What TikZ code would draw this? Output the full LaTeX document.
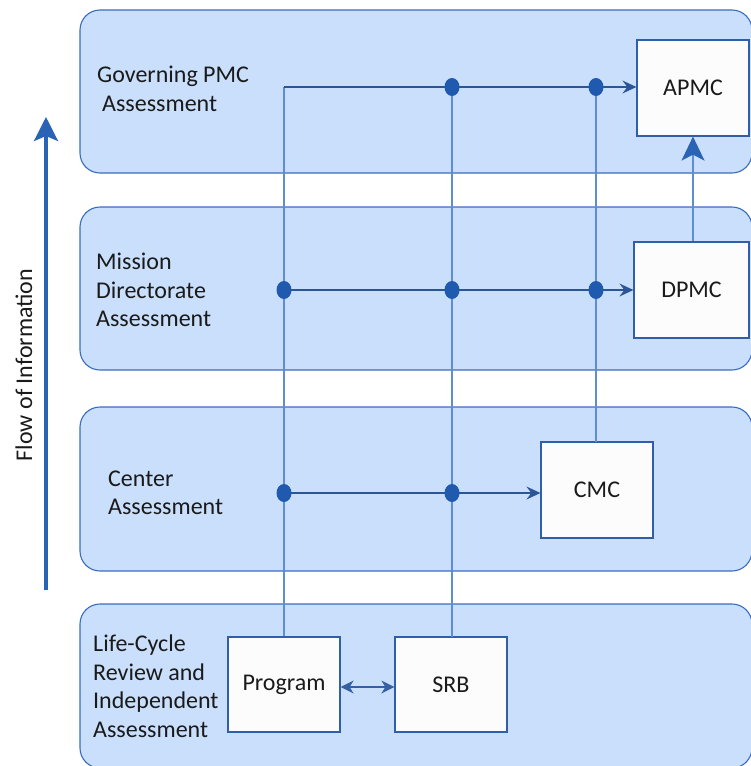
\documentclass[tikz,border=0pt]{standalone}
\usepackage{fontspec}
\setmainfont{Carlito}
\usetikzlibrary{arrows.meta,shapes.geometric}
\definecolor{bandfill}{HTML}{C9DFFC}
\definecolor{bandline}{HTML}{3A6CC0}
\definecolor{boxline}{HTML}{2E5FA8}
\definecolor{hline}{HTML}{2A5597}
\definecolor{vline}{HTML}{5F8DD2}
\definecolor{dotc}{HTML}{1F5AAE}
\definecolor{flowc}{HTML}{2A62B6}
\definecolor{txt}{HTML}{1A1A1A}
\tikzset{
  band/.style={draw=bandline, fill=bandfill, line width=1.1pt, rounded corners=20pt, inner sep=0pt},
  blabel/.style={anchor=west, align=left, inner sep=0pt, text=txt, font=\fontsize{24}{28.5}\selectfont},
  unit/.style={draw=boxline, fill=white!98!gray, line width=1.2pt, minimum width=112pt, minimum height=96pt, inner sep=0pt, text=txt, font=\fontsize{24}{28}\selectfont},
  jdot/.style={ellipse, fill=dotc, minimum width=15pt, minimum height=18pt, inner sep=0pt},
  hl/.style={draw=hline, line width=1.4pt},
  vl/.style={draw=vline, line width=1.4pt},
  harrow/.style={-{Stealth[length=14pt,width=13pt,inset=5pt]}},
}
\begin{document}
\begin{tikzpicture}[x=1pt,y=-1pt]
\useasboundingbox (0,0) rectangle (750,766);
% bands
\node[band, minimum width=672pt, minimum height=163pt] (b1) at (416,91.5) {};
\node[band, minimum width=672pt, minimum height=163pt] (b2) at (416,288.5) {};
\node[band, minimum width=672pt, minimum height=164pt] (b3) at (416,489) {};
\node[band, minimum width=672pt, minimum height=164pt] (b4) at (416,686) {};
% band labels
\node[blabel] (l1) at (97,89) {Governing PMC\\\hspace*{5pt}Assessment};
\node[blabel] (l2) at (96,290) {Mission\\Directorate\\Assessment};
\node[blabel] (l3) at (108,493) {Center\\Assessment};
\node[blabel] (l4) at (93,686) {Life-Cycle\\Review and\\Independent\\Assessment};
% units
\node[unit] (apmc) at (693,88) {APMC};
\node[unit, minimum width=115pt] (dpmc) at (691.5,290) {DPMC};
\node[unit] (cmc) at (597,490) {CMC};
\node[unit, minimum height=95pt] (prog) at (284,684.5) {Program};
\node[unit, minimum height=95pt] (srb) at (451,684.5) {SRB};
% junction coordinates
\coordinate (t1) at (284,87);
\coordinate (t2) at (452,87);
\coordinate (t3) at (596,87);
\coordinate (m1) at (284,290);
\coordinate (m2) at (452,290);
\coordinate (m3) at (596,290);
\coordinate (c1) at (284,493);
\coordinate (c2) at (452,493);
% vertical lines
\draw[vl] (prog.north) -- (t1);
\draw[vl] (452,637) -- (t2);
\draw[vl] (596,442) -- (t3);
% horizontal lines
\draw[hl, harrow] (t1) -- (apmc.west |- t1);
\draw[hl, harrow] (m1) -- (dpmc.west |- m1);
\draw[hl, harrow] (c1) -- (cmc.west |- c1);
% dots
\foreach \p in {t2,t3,m1,m2,m3,c1,c2}{
  \node[jdot] (d\p) at (\p) {};
}
% DPMC to APMC
\draw[draw=vline, line width=1.4pt, -{Stealth[length=24pt,width=23pt,inset=6pt, color=flowc]}] (dpmc.north -| 693,0) -- (apmc.south -| 693,0);
% Program <-> SRB
\draw[draw=hline!80!vline, line width=1.6pt, {Stealth[length=13pt,width=13pt,inset=4pt]}-{Stealth[length=13pt,width=13pt,inset=4pt]}] (prog.east |- 0,687) -- (srb.west |- 0,687);
% flow arrow
\coordinate (fb) at (46,590);
\coordinate (ft) at (46,117);
\draw[draw=flowc, line width=3.4pt, -{Stealth[length=24pt,width=24pt,inset=5pt]}] (fb) -- (ft);
\node[rotate=90, inner sep=0pt, text=txt, font=\fontsize{24}{28}\selectfont] (flow) at (24,365) {Flow of Information};
\end{tikzpicture}
\end{document}
